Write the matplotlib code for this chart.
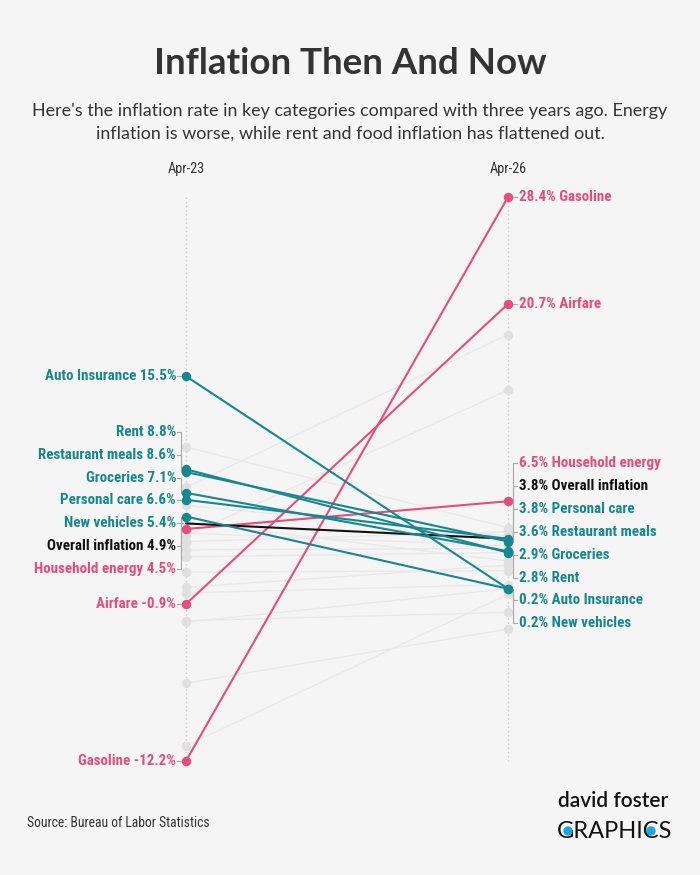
import matplotlib
matplotlib.use("Agg")
import matplotlib.pyplot as plt
from matplotlib.patches import Ellipse
import numpy as np

# ---------------- data ----------------
period_labels = ["Apr-23", "Apr-26"]
categories = ["Gasoline", "Airfare", "Household energy", "Overall inflation",
              "Auto Insurance", "Rent", "Restaurant meals", "Groceries",
              "Personal care", "New vehicles"]
apr23 = [-12.2, -0.9, 4.5, 4.9, 15.5, 8.8, 8.6, 7.1, 6.6, 5.4]
apr26 = [28.4, 20.7, 6.5, 3.8, 0.2, 2.8, 3.6, 2.9, 3.8, 0.2]
groups = ["energy", "energy", "energy", "overall",
          "other", "other", "other", "other", "other", "other"]

# unlabelled background categories
other_apr23 = [10.4, 7.5, 4.0, 3.6, 3.0, 2.5, 1.4, 0.3, -0.1, -2.1, -2.2, -6.6, -11.1, 6.2, 5.0, 4.2]
other_apr26 = [4.6, 18.5, 14.5, 4.3, 3.1, 2.8, 1.5, 1.9, 0.5, -1.5, 0.2, -2.7, -0.2, 4.0, 2.2, 3.3]

title = "Inflation Then And Now"
subtitle = ["Here's the inflation rate in key categories compared with three years ago. Energy",
            "inflation is worse, while rent and food inflation has flattened out."]
source = "Source: Bureau of Labor Statistics"

# ---------------- style ----------------
BG = "#f5f5f5"
PINK = "#e64c7c"
TEAL = "#17878f"
BLACK = "#111111"
GREY_LINE = "#e9e9e9"
GREY_DOT = "#e0e0e0"
TEXT = "#333333"
colors = {"energy": PINK, "overall": BLACK, "other": TEAL}

LABEL_FONT = ["Roboto Condensed", "Roboto", "DejaVu Sans"]
W, H, DPI = 700, 875, 100

fig = plt.figure(figsize=(W / DPI, H / DPI), dpi=DPI, facecolor=BG)

x_left_px, x_right_px = 186, 508
y_top_px, y_bot_px = 197, 761
ymax, ymin = max(apr23 + apr26), min(apr23 + apr26)
ax = fig.add_axes([x_left_px / W, 1 - y_bot_px / H,
                   (x_right_px - x_left_px) / W, (y_bot_px - y_top_px) / H])
ax.set_facecolor(BG)
ax.set_xlim(0, 1)
ax.set_ylim(ymin, ymax)
ax.axis("off")

px_x = 1.0 / (x_right_px - x_left_px)          # data units per pixel (x)
px_y = (ymax - ymin) / (y_bot_px - y_top_px)   # data units per pixel (y)

# dotted period axes
for xv in (0, 1):
    ax.plot([xv, xv], [ymin, ymax], color="#cccccc", lw=1.0,
            ls=(0, (1, 2)), zorder=0, clip_on=False)

# background lines
for a, b in zip(other_apr23, other_apr26):
    ax.plot([0, 1], [a, b], color=GREY_LINE, lw=1.0, zorder=1, clip_on=False,
            solid_capstyle="round")
    ax.plot([0, 1], [a, b], "o", color=GREY_DOT, ms=5.8, zorder=1, clip_on=False)

# highlighted lines
for cat, a, b, g in zip(categories, apr23, apr26, groups):
    c = colors[g]
    ax.plot([0, 1], [a, b], color=c, lw=1.5, zorder=3, clip_on=False,
            solid_capstyle="round")
    if g != "overall":
        ax.plot([0, 1], [a, b], "o", color=c, ms=5.8, zorder=4, clip_on=False)


def spread(targets, gap, bias=0.0):
    order = sorted(range(len(targets)), key=lambda i: (-targets[i], i))
    clusters = []
    for i in order:
        clusters.append([[i], targets[i]])
        while len(clusters) > 1:
            a, b = clusters[-2], clusters[-1]
            a_bottom = a[1] - (len(a[0]) - 1) * gap
            if a_bottom - b[1] < gap:
                members = a[0] + b[0]
                mean = np.mean([targets[j] for j in members])
                top = mean + (len(members) - 1) * gap / 2
                clusters[-2:] = [[members, top]]
            else:
                break
    pos = {}
    for members, top in clusters:
        shift = bias if len(members) > 1 else 0.0
        for k, j in enumerate(members):
            pos[j] = top - k * gap + shift
    return [pos[i] for i in range(len(targets))]


gap = 22.9 * px_y
left_pos = spread(apr23, gap)
right_pos = spread(apr26, gap, bias=7 * px_y)

BR = "#a8a8a8"
for cat, a, b, g, la, lb in zip(categories, apr23, apr26, groups, left_pos, right_pos):
    c = colors[g]
    # left label + connector
    ax.plot([-9 * px_x, -5 * px_x, -5 * px_x, -3 * px_x], [la, la, a, a],
            color=BR, lw=0.8, zorder=2, clip_on=False)
    ax.text(-10 * px_x, la, f"{cat} {a:.1f}%", ha="right", va="center",
            fontsize=10.8, fontweight="bold", color=c, family=LABEL_FONT)
    # right label + connector
    ax.plot([9 * px_x + 1, 5 * px_x + 1, 5 * px_x + 1, 3 * px_x + 1], [lb, lb, b, b],
            color=BR, lw=0.8, zorder=2, clip_on=False)
    ax.text(1 + 11 * px_x, lb, f"{b:.1f}% {cat}", ha="left", va="center",
            fontsize=10.8, fontweight="bold", color=c, family=LABEL_FONT)

# headers
for xv, lab in zip((x_left_px, x_right_px), period_labels):
    fig.text(xv / W, 1 - 169 / H, lab, ha="center", va="center",
             fontsize=10.3, color=TEXT, family=LABEL_FONT)

# title / subtitle
fig.text(0.5, 1 - 64 / H, title, ha="center", va="center", fontsize=26.5,
         fontweight="bold", color=TEXT, family=["Lato", "DejaVu Sans"])
for yy, line in zip((111, 134), subtitle):
    fig.text(0.5, 1 - yy / H, line, ha="center", va="center", fontsize=12.9,
             color=TEXT, family=["Lato", "DejaVu Sans"])

# source
fig.text(27 / W, 1 - 823 / H, source, ha="left", va="center", fontsize=9.8,
         color=TEXT, family=LABEL_FONT)

# logo
fig.text(558 / W, 1 - 801 / H, "david foster", ha="left", va="center",
         fontsize=15, fontweight="semibold", color="#111111",
         family=["Lato", "DejaVu Sans"])
fig.text(557 / W, 1 - 831 / H, "GRAPHICS", ha="left", va="center",
         fontsize=17, color="#111111", family=["Lato", "DejaVu Sans"])
for cx in (568, 651):
    fig.patches.append(Ellipse((cx / W, 1 - 831 / H), 8 / W, 8 / H,
                               transform=fig.transFigure, color="#1ea5df",
                               zorder=5))

fig.savefig("out.png", dpi=DPI, facecolor=BG)
